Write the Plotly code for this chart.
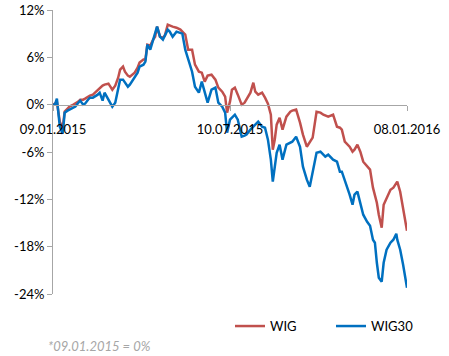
import pandas as pd
import plotly.graph_objects as go

# days since 09.01.2015 (x positions of sampled points)
day_offsets = [
    0, 2, 4, 7, 10, 12, 15, 17, 21, 23,
    26, 28, 31, 33, 36, 38, 41, 43, 46, 48,
    51, 53, 57, 59, 61, 64, 67, 69, 72, 74,
    77, 79, 82, 84, 87, 89, 93, 95, 97, 100,
    103, 105, 107, 110, 113, 115, 118, 120, 123, 127,
    131, 133, 136, 139, 143, 146, 150, 153, 156, 159,
    163, 167, 170, 174, 177, 179, 182, 184, 187, 190,
    194, 197, 199, 203, 206, 208, 211, 215, 218, 221,
    224, 226, 228, 230, 233, 236, 240, 244, 246, 250,
    254, 257, 261, 264, 267, 271, 275, 278, 280, 283,
    288, 292, 295, 297, 300, 303, 305, 308, 310, 313,
    316, 319, 323, 326, 329, 331, 333, 335, 338, 340,
    343, 347, 350, 353, 354, 357, 360, 364,
]

wig = [
    0, 0.13, 0.38, -2.16, -2.92, -0.89, -0.51, -0.25, 0, 0.13,
    0.38, 0.63, 0.63, 0.76, 1.01, 1.14, 1.27, 1.52, 1.78, 2.16,
    2.41, 2.54, 2.66, 2.28, 1.90, 2.41, 3.42, 4.44, 4.82, 4.18,
    3.68, 3.55, 3.93, 4.06, 4.69, 5.33, 5.71, 5.71, 7.61, 7.48,
    8.24, 8.62, 9.89, 8.62, 8.50, 8.75, 10.14, 10.02, 9.89, 9.76,
    9.51, 9.26, 8.88, 6.97, 6.97, 5.07, 4.18, 4.06, 2.92, 3.68,
    3.80, 3.17, 2.16, 1.65, 1.01, -1.01, 0.38, 1.90, 2.16, 1.27,
    0, 0.25, 0.63, 1.52, 2.79, 1.65, 1.27, 1.52, 0.89, 0.13,
    -1.27, -5.71, -4.44, -2.54, -1.65, -3.17, -1.52, -0.89, -0.76, -0.63,
    -2.28, -3.80, -5.33, -4.69, -4.18, -0.89, -1.01, -1.27, -1.39, -1.52,
    -1.27, -2.79, -2.92, -3.17, -4.69, -5.07, -5.33, -5.96, -5.71, -5.07,
    -5.96, -7.23, -7.86, -8.24, -10.52, -11.41, -12.43, -13.95, -15.60, -12.68,
    -11.79, -10.78, -10.52, -9.89, -9.76, -11.03, -13.06, -15.98,
]

wig30 = [
    0, 0, 0.76, -2.79, -3.68, -1.01, -0.76, -0.63, -0.38, -0.25,
    0.25, 0.51, 0, 0.13, 0.63, 0.89, 0.89, 1.01, 1.27, 1.52,
    0.51, 1.52, 0.63, 0.25, -0.25, 0.25, 2.16, 3.17, 3.17, 2.79,
    2.28, 2.54, 3.17, 3.55, 4.06, 4.82, 5.07, 5.45, 7.61, 6.97,
    8.24, 8.88, 9.89, 8.62, 8.24, 8.75, 9.51, 9.26, 8.62, 9.26,
    9.13, 9.0, 6.97, 5.71, 4.18, 2.28, 1.52, 2.92, 1.52, 0.25,
    1.90, 2.16, 0.25, -0.25, -1.01, -3.55, -1.90, -1.65, -1.27, -1.90,
    -4.06, -3.93, -3.80, -3.17, -2.79, -2.54, -2.16, -2.79, -2.92, -4.44,
    -6.97, -9.76, -7.61, -6.09, -5.07, -6.97, -5.07, -4.82, -4.69, -4.06,
    -5.33, -7.86, -9.51, -10.40, -8.62, -6.09, -5.96, -6.34, -6.59, -6.34,
    -6.97, -7.23, -8.50, -8.50, -9.51, -10.78, -11.41, -12.68, -11.41, -11.03,
    -12.68, -13.95, -14.84, -15.34, -17.12, -17.50, -20.04, -21.94, -22.44, -20.04,
    -18.39, -17.50, -17.12, -16.36, -17.12, -18.39, -20.29, -23.21,
]

tick_dates = ["2015-01-09", "2015-07-10", "2016-01-08"]
tick_labels = ["09.01.2015", "10.07.2015", "08.01.2016"]
y_ticks = [12, 6, 0, -6, -12, -18, -24]
footnote = "*09.01.2015 = 0%"

base = pd.Timestamp("2015-01-09")
dates = [base + pd.Timedelta(days=d) for d in day_offsets]

FONT = "Lato, 'Open Sans', sans-serif"
AXIS_GRAY = "#A6A6A6"
y_min, y_max = -24, 12

fig = go.Figure()
fig.add_trace(go.Scatter(x=dates, y=wig, mode="lines", name="WIG",
                         line=dict(color="#C0504D", width=2.5)))
fig.add_trace(go.Scatter(x=dates, y=wig30, mode="lines", name="WIG30",
                         line=dict(color="#0070C0", width=2.5)))

fig.update_layout(
    width=449, height=356,
    margin=dict(l=53, r=42, t=10, b=62, autoexpand=False),
    paper_bgcolor="white", plot_bgcolor="white",
    font=dict(family=FONT, size=13, color="#000000"),
    showlegend=True,
    legend=dict(orientation="h", x=0.5, xanchor="left", y=-0.113, yanchor="middle",
                font=dict(size=13), entrywidth=56, entrywidthmode="pixels",
                bgcolor="rgba(0,0,0,0)"),
    xaxis=dict(type="date", range=[tick_dates[0], tick_dates[-1]],
               showgrid=False, zeroline=False, showline=True, linecolor=AXIS_GRAY,
               linewidth=1, anchor="free", position=(0 - y_min) / (y_max - y_min),
               tickvals=tick_dates, ticktext=tick_labels, ticks="outside",
               ticklen=5, tickcolor=AXIS_GRAY, ticklabelstandoff=8),
    yaxis=dict(range=[y_min, y_max], tickvals=y_ticks,
               ticktext=[f"{v}%" for v in y_ticks],
               showgrid=False, zeroline=False, showline=True, linecolor=AXIS_GRAY,
               linewidth=1, ticks="outside", ticklen=5, tickcolor=AXIS_GRAY),
    annotations=[dict(text=f"<i>{footnote}</i>", xref="paper", yref="paper",
                      x=-0.02, y=-0.183, xanchor="left", yanchor="middle",
                      showarrow=False, font=dict(size=13, color="#A6A6A6"))],
)

fig.write_html("out.html", config={"displayModeBar": False},
               post_script="document.body.style.margin='0';document.body.style.overflow='hidden';")
